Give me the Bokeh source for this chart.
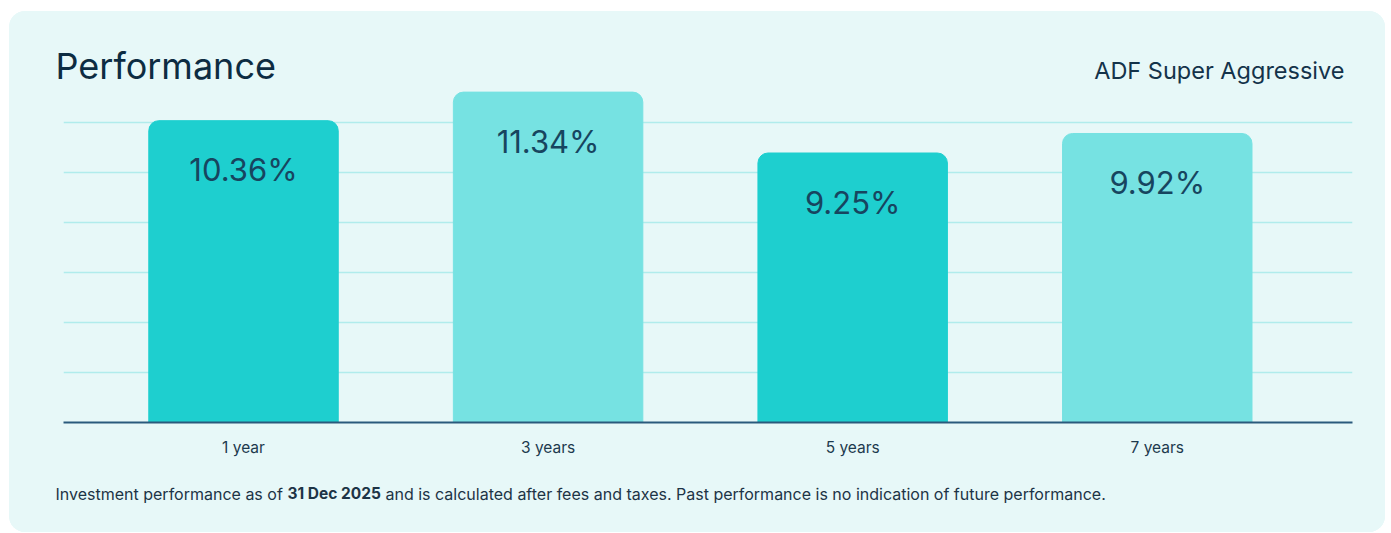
from bokeh.plotting import figure
from bokeh.layouts import column
from bokeh.models import ColumnDataSource, FixedTicker, SingleIntervalTicker, Range1d
from bokeh.core.properties import value
from bokeh.embed import file_html
from bokeh.resources import INLINE

# ---- data ----
categories = ["1 year", "3 years", "5 years", "7 years"]
returns = [10.36, 11.34, 9.25, 9.92]
bar_colors = ["#1ecfcf", "#76e2e2", "#1ecfcf", "#76e2e2"]
title_text = "Performance"
subtitle_text = "ADF Super Aggressive"
note_parts = ["Investment performance as of ", "31 Dec 2025",
              "and is calculated after fees and taxes. Past performance is no indication of future performance."]

CARD = "#e7f8f8"
NAVY = "#0d2c42"
W = 1376


def text_panel(h):
    f = figure(width=W, height=h, frame_width=W, frame_height=h,
               min_border=0, x_range=Range1d(0, W), y_range=Range1d(0, h),
               x_axis_location=None, y_axis_location=None,
               output_backend="svg", toolbar_location=None, tools="")
    f.frame_align = False
    f.grid.visible = False
    f.outline_line_color = None
    f.background_fill_color = CARD
    f.border_fill_color = CARD
    return f


# ---- header ----
HH = 78
header = text_panel(HH)
header.text(x=[46], y=[HH - 54.5], text=[title_text], text_font=value("Inter"),
            text_font_size="36px", text_color=NAVY, text_baseline="middle")
header.text(x=[1335], y=[HH - 58.5], text=[subtitle_text], text_font=value("Inter"),
            text_font_size="23.5px", text_color="#14334a", text_align="right",
            text_baseline="middle")

# ---- chart ----
xs = list(range(len(categories)))
labels = [f"{v:.2f}%" for v in returns]
src = ColumnDataSource(dict(x=xs, top=returns, color=bar_colors, label=labels))

p = figure(width=W, height=381, frame_width=1289, frame_height=333,
           min_border_left=54, min_border_right=33, min_border_top=0, min_border_bottom=48,
           x_range=Range1d(-0.591, 3.641), y_range=Range1d(0, 11.43),
           output_backend="svg", toolbar_location=None, tools="")
p.frame_align = False
p.background_fill_color = CARD
p.border_fill_color = CARD
p.outline_line_color = None

p.vbar(x="x", top="top", bottom=0, width=0.622, color="color", source=src,
       border_radius=(10, 10, 0, 0))
p.text(x="x", y="top", text="label", source=src, y_offset=49,
       text_align="center", text_baseline="middle", text_color="#17455f",
       text_font=value("Inter"), text_font_size="31px")

p.xgrid.visible = False
p.yaxis.visible = False
p.ygrid.ticker = SingleIntervalTicker(interval=1.716)
p.ygrid.grid_line_color = "#b0ecec"
p.ygrid.grid_line_width = 1.5

ax = p.xaxis[0]
ax.ticker = FixedTicker(ticks=xs)
ax.major_label_overrides = {i: c for i, c in zip(xs, categories)}
ax.major_tick_line_color = None
ax.minor_tick_line_color = None
ax.major_tick_out = 0
ax.major_tick_in = 0
ax.axis_line_color = "#2a5a7c"
ax.axis_line_width = 2
ax.major_label_standoff = 15
ax.major_label_text_font = "Inter"
ax.major_label_text_font_size = "15.5px"
ax.major_label_text_color = "#1d3a4e"

# ---- footer ----
FH = 62
footer = text_panel(FH)
note_x = [46, 278, 376]
note_size = ["16px", "15.5px", "16px"]
for i, (t, xx, fs) in enumerate(zip(note_parts, note_x, note_size)):
    footer.text(x=[xx], y=[FH - 23], text=[t], text_font=value("Inter"),
                text_font_size=fs, text_color="#1d3446",
                text_font_style="bold" if i == 1 else "normal",
                text_baseline="middle")

layout = column(header, p, footer, spacing=0)
layout.margin = (11, 0, 0, 9)
layout.styles = {"border-radius": "16px", "overflow": "hidden", "background-color": CARD}

open("out.html", "w").write(file_html(layout, INLINE))
